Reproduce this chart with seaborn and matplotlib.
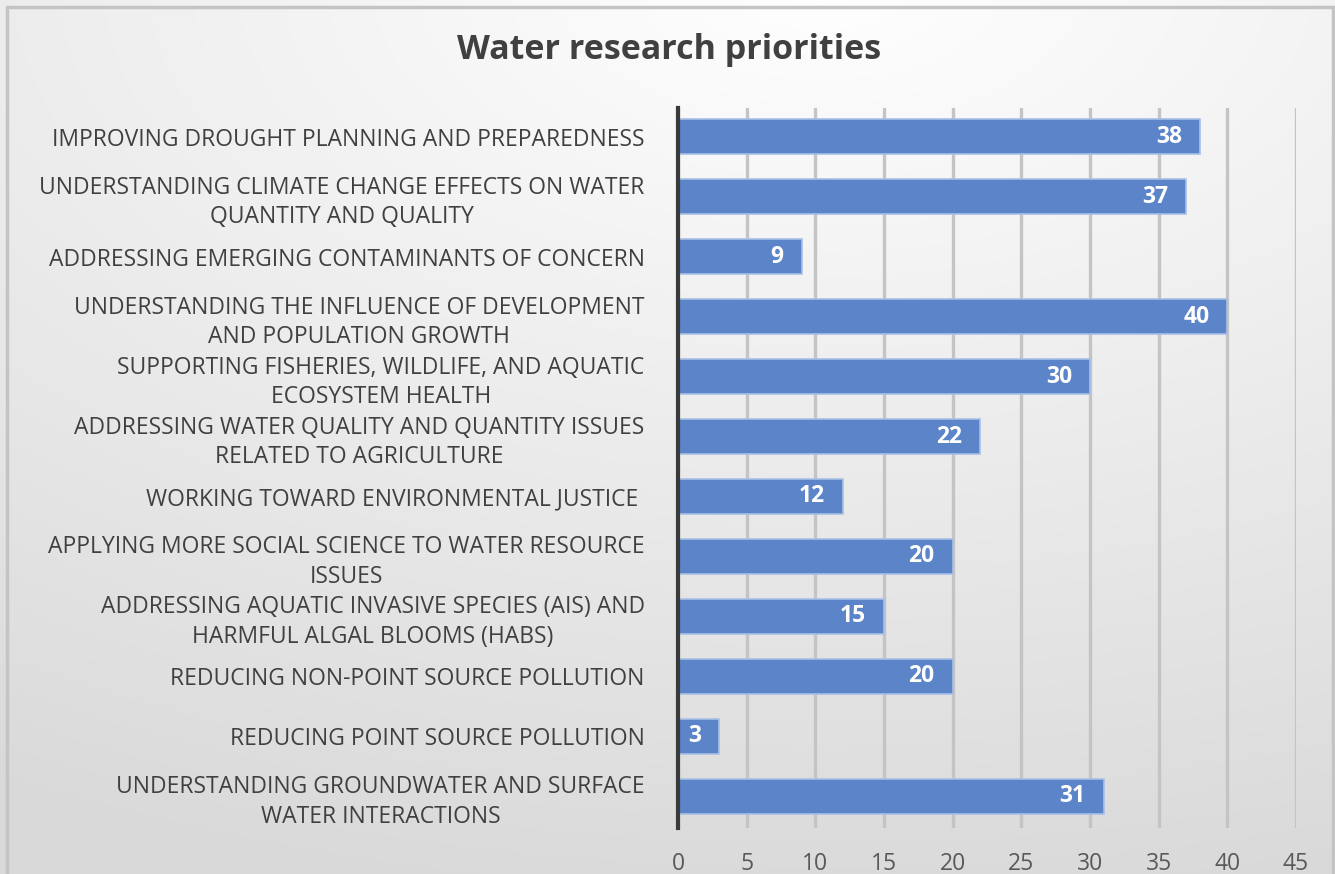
import matplotlib
matplotlib.use("Agg")
import matplotlib.pyplot as plt
import seaborn as sns
import numpy as np
import pandas as pd
from matplotlib.patches import Rectangle

categories = [
    "IMPROVING DROUGHT PLANNING AND PREPAREDNESS",
    "UNDERSTANDING CLIMATE CHANGE EFFECTS ON WATER\nQUANTITY AND QUALITY",
    "ADDRESSING EMERGING CONTAMINANTS OF CONCERN",
    "UNDERSTANDING THE INFLUENCE OF DEVELOPMENT\nAND POPULATION GROWTH",
    "SUPPORTING FISHERIES, WILDLIFE, AND AQUATIC\nECOSYSTEM HEALTH",
    "ADDRESSING WATER QUALITY AND QUANTITY ISSUES\nRELATED TO AGRICULTURE",
    "WORKING TOWARD ENVIRONMENTAL JUSTICE ",
    "APPLYING MORE SOCIAL SCIENCE TO WATER RESOURCE\nISSUES",
    "ADDRESSING AQUATIC INVASIVE SPECIES (AIS) AND\nHARMFUL ALGAL BLOOMS (HABS)",
    "REDUCING NON-POINT SOURCE POLLUTION",
    "REDUCING POINT SOURCE POLLUTION",
    "UNDERSTANDING GROUNDWATER AND SURFACE\nWATER INTERACTIONS",
]
values = [38, 37, 9, 40, 30, 22, 12, 20, 15, 20, 3, 31]
xticks = [0, 5, 10, 15, 20, 25, 30, 35, 40, 45]
title = "Water research priorities"

df = pd.DataFrame({"category": categories, "value": values})

sns.set_theme(style="white")
plt.rcParams["font.family"] = ["Open Sans", "DejaVu Sans"]

W, H = 1335, 874
fig = plt.figure(figsize=(W / 100, H / 100), dpi=100)

# background gradient
bg = fig.add_axes([0, 0, 1, 1], zorder=-10)
yy, xx = np.mgrid[0:H, 0:W]
d = np.sqrt(((xx - 820) / 1600.0) ** 2 + ((yy + 20) / 880.0) ** 2)
g = 1.0 - 0.14 * np.clip(d, 0, 1.05)
img = np.dstack([g, g, g])
bg.imshow(img, extent=[0, 1, 0, 1], aspect="auto", origin="upper")
bg.set_axis_off()
fig.patches.append(Rectangle((7 / W, -0.01), (1333 - 7) / W, (874 - 7) / H + 0.01,
                             transform=fig.transFigure, fill=False,
                             edgecolor="#c4c4c4", linewidth=2.5, zorder=5))

ax = fig.add_axes([678 / W, 1 - 828 / H, 618 / W, 720 / H])
ax.patch.set_alpha(0)
sns.barplot(data=df, y="category", x="value", orient="h", color="#5b84c9",
            saturation=1, width=0.58, ax=ax, zorder=3,
            edgecolor="#a9c0e6", linewidth=1.2)

ax.set_xlim(0, 45)
ax.set_ylim(len(categories) - 0.47, -0.48)
ax.set_xticks(xticks)
ax.set_xticklabels([str(t) for t in xticks])
ax.xaxis.grid(True, color="#c4c4c4", linewidth=2.4, zorder=0)
ax.set_axisbelow(True)
ax.tick_params(axis="x", length=0, pad=17, labelsize=16.5, labelcolor="#595959")
ax.tick_params(axis="y", length=0, pad=24, labelsize=16.5, labelcolor="#404040")
for lbl in ax.get_yticklabels():
    lbl.set_horizontalalignment("right")
    lbl.set_multialignment("center")
    lbl.set_linespacing(1.3)
ax.set_xlabel("")
ax.set_ylabel("")
for s in ["top", "right", "bottom"]:
    ax.spines[s].set_visible(False)
ax.spines["left"].set_color("#3a3a3a")
ax.spines["left"].set_linewidth(3)
ax.spines["left"].set_zorder(4)

for cont in ax.containers:
    texts = ax.bar_label(cont, labels=[str(v) for v in values], padding=-13,
                         label_type="edge", color="white", fontweight="bold",
                         fontsize=16.5, zorder=6)
    for t in texts:
        t.set_horizontalalignment("right")

fig.text(669 / W, 1 - 50 / H, title, ha="center", va="center",
         fontsize=24.5, fontweight="bold", color="#404040")

fig.savefig("out.png", dpi=100)
